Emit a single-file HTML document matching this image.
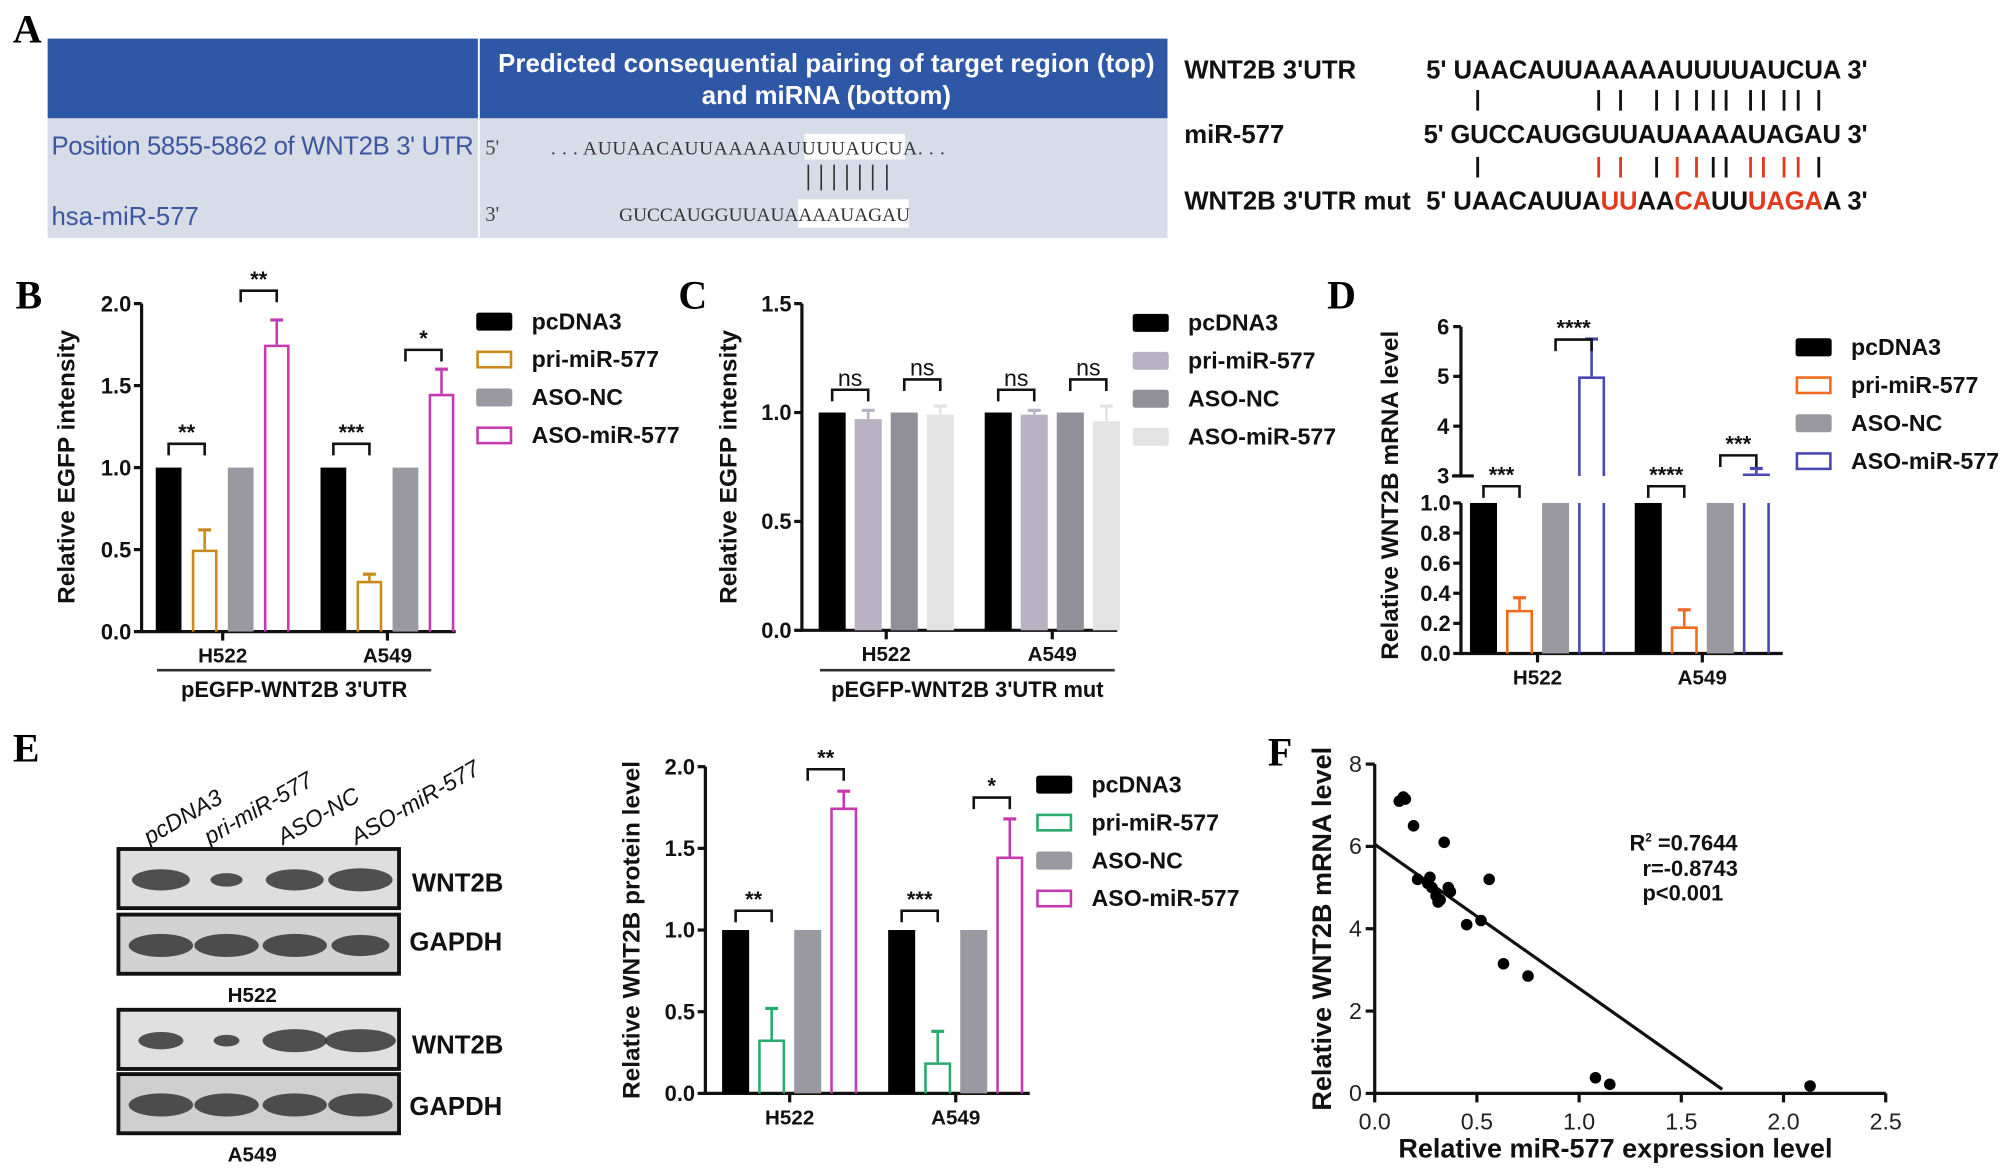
<!DOCTYPE html>
<html><head><meta charset="utf-8"><style>
html,body{margin:0;padding:0;background:#fff;}
svg{display:block;font-family:"Liberation Sans",Arial,sans-serif;}
.t{font-weight:bold;fill:#111;}
.n{font-family:"Liberation Sans Narrow","Liberation Sans",Arial,sans-serif;}
.pl{font-family:"Liberation Serif",serif;font-weight:bold;font-size:31px;fill:#000;}
</style></head><body>
<svg id="fig" width="2008" height="1168" viewBox="0 0 1560 908" preserveAspectRatio="none" xmlns="http://www.w3.org/2000/svg">
<!-- Panel A -->
<g>
<text class="pl" x="10" y="33">A</text>
<rect x="37" y="30" width="870" height="62" fill="#2e58a6"/>
<rect x="37" y="92" width="870" height="93" fill="#d6dde9"/>
<line x1="372" y1="30" x2="372" y2="185" stroke="#fff" stroke-width="1.5"/>
<text class="n" x="642" y="56" text-anchor="middle" font-size="20" font-weight="bold" fill="#fff" textLength="510">Predicted consequential pairing of target region (top)</text>
<text class="n" x="642" y="81" text-anchor="middle" font-size="20" font-weight="bold" fill="#fff">and miRNA (bottom)</text>
<text class="n" x="40" y="120" font-size="20" fill="#3d56a0" textLength="328">Position 5855-5862 of WNT2B 3' UTR</text>
<text class="n" x="40" y="175" font-size="20" fill="#3d56a0">hsa-miR-577</text>
<text x="377" y="120" font-size="16" fill="#444" font-family="Liberation Serif">5'</text>
<text x="377" y="172" font-size="16" fill="#444" font-family="Liberation Serif">3'</text>
<rect x="625" y="104" width="78" height="20" fill="#fff"/>
<text x="428" y="120" font-size="15" fill="#333" font-family="Liberation Serif" textLength="306">. . . AUUAACAUUAAAAAUUUUAUCUA. . .</text>
<g stroke="#333" stroke-width="1.3"><line x1="628" y1="128" x2="628" y2="148"/><line x1="638" y1="128" x2="638" y2="148"/><line x1="648" y1="128" x2="648" y2="148"/><line x1="658" y1="128" x2="658" y2="148"/><line x1="668" y1="128" x2="668" y2="148"/><line x1="678" y1="128" x2="678" y2="148"/><line x1="689" y1="128" x2="689" y2="148"/></g>
<rect x="620" y="155" width="86" height="22" fill="#fff"/>
<text x="481" y="172" font-size="15" fill="#333" font-family="Liberation Serif" textLength="226">GUCCAUGGUUAUAAAAUAGAU</text>
<text class="t n" x="920" y="61" font-size="20">WNT2B 3'UTR</text>
<text class="t n" x="920" y="111" font-size="20">miR-577</text>
<text class="t n" x="920" y="163" font-size="20" textLength="176">WNT2B 3'UTR mut</text>
<text class="t n" x="1108" y="61" font-size="20" textLength="343">5' UAACAUUAAAAAUUUUAUCUA 3'</text>
<text class="t n" x="1106" y="111" font-size="20" textLength="345">5' GUCCAUGGUUAUAAAAUAGAU 3'</text>
<text class="t n" x="1108" y="163" font-size="20" textLength="343">5' UAACAUUA<tspan fill="#e23a1e">UU</tspan>AA<tspan fill="#e23a1e">CA</tspan>UU<tspan fill="#e23a1e">UAGA</tspan>A 3'</text>
<g id="pairs1" stroke="#111" stroke-width="2.2"></g>
<g id="pairs2" stroke-width="2.2"></g>
</g>
<g id="charts"></g>
<!-- Panel E blots -->
<g>
<text class="pl" x="10" y="592">E</text>
<g font-size="18" font-style="italic" fill="#111">
<text transform="translate(116,657) rotate(-30)">pcDNA3</text>
<text transform="translate(163,657) rotate(-30)">pri-miR-577</text>
<text transform="translate(220,657) rotate(-30)">ASO-NC</text>
<text transform="translate(277,657) rotate(-30)">ASO-miR-577</text>
</g>
<g id="blots"></g>
<text class="t n" x="320" y="693" font-size="20">WNT2B</text>
<text class="t n" x="318" y="739" font-size="20">GAPDH</text>
<text x="196" y="779" font-size="16" class="t" text-anchor="middle">H522</text>
<text class="t n" x="320" y="819" font-size="20">WNT2B</text>
<text class="t n" x="318" y="867" font-size="20">GAPDH</text>
<text x="196" y="903" font-size="16" class="t" text-anchor="middle">A549</text>
</g>
</svg>
<script>
var NS="http://www.w3.org/2000/svg";
function mk(p,tag,at){var e=document.createElementNS(NS,tag);for(var k in at)e.setAttribute(k,at[k]);p.appendChild(e);return e;}
var svg=document.getElementById('fig');
var charts=document.getElementById('charts');

var pairX=[1148,1242,1259,1287,1303,1318,1331,1341,1360,1370,1386,1397,1413];
var pairRed=[0,1,1,0,1,1,0,0,1,1,1,1,0];
var p1=document.getElementById('pairs1'),p2=document.getElementById('pairs2');
pairX.forEach(function(x,i){
 mk(p1,'line',{x1:x,y1:70,x2:x,y2:86});
 mk(p2,'line',{x1:x,y1:122,x2:x,y2:138,stroke:pairRed[i]?'#e23a1e':'#111'});
});

// ===== Data =====
var groups=["H522","A549"];
var seriesNames=["pcDNA3","pri-miR-577","ASO-NC","ASO-miR-577"];
var bVals=[[1.0,0.5,1.0,1.75],[1.0,0.31,1.0,1.45]];
var bErr=[[0,0.62,0,1.9],[0,0.35,0,1.6]];
var cVals=[[1.0,0.97,1.0,0.99],[1.0,0.99,1.0,0.96]];
var cErr=[[0,1.01,0,1.03],[0,1.01,0,1.03]];
var dVals=[[1.0,0.29,1.0,5.0],[1.0,0.18,1.0,3.05]];
var dErr=[[0,0.37,0,5.75],[0,0.29,0,3.15]];
var eVals=[[1.0,0.33,1.0,1.75],[1.0,0.19,1.0,1.45]];
var eErr=[[0,0.52,0,1.85],[0,0.38,0,1.68]];
var bTicks=["0.0","0.5","1.0","1.5","2.0"];
var cTicks=["0.0","0.5","1.0","1.5"];
var dLowTicks=["0.0","0.2","0.4","0.6","0.8","1.0"];
var dHighTicks=["3","4","5","6"];
var fX=[0.12,0.14,0.15,0.19,0.34,0.21,0.26,0.27,0.28,0.30,0.31,0.32,0.36,0.37,0.45,0.52,0.56,0.63,0.75,1.08,1.15,2.13];
var fY=[7.1,7.2,7.15,6.5,6.1,5.2,5.1,5.25,5.0,4.8,4.65,4.7,5.0,4.9,4.1,4.2,5.2,3.15,2.85,0.38,0.22,0.18];
var fXTicks=["0.0","0.5","1.0","1.5","2.0","2.5"];
var fYTicks=["0","2","4","6","8"];
var fFit=[6.05,-3.5];

function barChart(o){
 var g=mk(charts,'g',{});
 
 
 var yv=o.y;
 var ax=mk(g,'path',{d:'M'+o.x0+' '+o.yTop+' V'+o.yBot+' H'+o.x1,fill:'none',stroke:'#111','stroke-width':2.5});
 
 
 if(o.ticks){o.ticks.forEach(function(t){var v=parseFloat(t),y=yv(v);
  mk(g,'line',{x1:o.x0-6,y1:y,x2:o.x0,y2:y,stroke:'#111','stroke-width':2.5});
  var tx=mk(g,'text',{x:o.x0-8,y:y+6,'text-anchor':'end','font-size':17,'class':'t n'});tx.textContent=t;
  
  
 });}
 groups.forEach(function(gn,gi){
  var gx=o.x0+o.off+gi*o.gstep;
  o.vals[gi].forEach(function(v,s){
   var x=gx+s*o.step, c=o.colors[s], w=o.bw;
   var drawRect=function(y1,y2,open){
    var r;
    if(c.fill){r=mk(g,'rect',{x:x,y:y1,width:w,height:y2-y1,fill:c.fill});}
    else{r=mk(g,'path',{d:open?('M'+(x+1)+' '+y2+' V'+y1+' M'+(x+w-1)+' '+y1+' V'+y2):('M'+(x+1)+' '+y2+' V'+(y1+1)+' H'+(x+w-1)+' V'+y2),fill:'none',stroke:c.stroke,'stroke-width':2});}
    
    
   };
   if(o.broken && v>o.breakLo){
    drawRect(yv(o.breakLo),o.yBot,true);
    drawRect(yv(v),yv(o.breakHi),false);
   } else drawRect(yv(v),o.yBot,false);
   var e=o.errs[gi][s];
   if(e>v){var cx=x+w/2,col=c.stroke||c.fill;
    mk(g,'line',{x1:cx,y1:yv(e),x2:cx,y2:yv(v),stroke:col,'stroke-width':2});
    mk(g,'line',{x1:cx-5,y1:yv(e),x2:cx+5,y2:yv(e),stroke:col,'stroke-width':2.5});}
  });
  var cxg=gx+1.5*o.step+o.bw/2;
  mk(g,'line',{x1:cxg,y1:o.yBot,x2:cxg,y2:o.yBot+7,stroke:'#111','stroke-width':2.5});
  var lt=mk(g,'text',{x:cxg,y:o.yBot+24,'text-anchor':'middle','font-size':16,'class':'t n'});lt.textContent=gn;
  
  
 });
 o.sig.forEach(function(b){
  var gx=o.x0+o.off+b[0]*o.gstep, a=gx+b[1]*o.step+o.bw/2, c2=gx+b[2]*o.step+o.bw/2, y=b[3];
  mk(g,'path',{d:'M'+a+' '+(y+9)+' V'+y+' H'+c2+' V'+(y+9),fill:'none',stroke:'#111','stroke-width':2});
  var st=mk(g,'text',{x:(a+c2)/2,y:y-3,'text-anchor':'middle','font-size':b[4]=='ns'?18:17,fill:'#111','font-weight':b[4]=='ns'?'normal':'bold'});st.textContent=b[4];
  
  
 });
 var tt=mk(g,'text',{transform:'translate('+o.tx+','+o.ty+') rotate(-90)','text-anchor':'middle','font-size':19,'class':'t'});tt.textContent=o.title;
 
 
 seriesNames.forEach(function(n,i){
  var y=o.ly+i*o.lstep,c=o.colors[i];
  var sw=mk(g,'rect',c.fill?{x:o.lx,y:y-7,width:28,height:14,rx:2,fill:c.fill}:{x:o.lx+1,y:y-6,width:26,height:12,fill:'none',stroke:c.stroke,'stroke-width':2});
  
  
  var lt=mk(g,'text',{x:o.lx+43,y:y+6,'font-size':18,'class':'t n'});lt.textContent=n;
  
  
 });
 if(o.under){
  mk(g,'line',{x1:o.under[0],y1:521,x2:o.under[1],y2:521,stroke:'#333','stroke-width':2});
  var ut=mk(g,'text',{x:(o.under[0]+o.under[1])/2,y:542,'text-anchor':'middle','font-size':17,'class':'t n'});ut.textContent=o.under[2];
  
  
 }
 if(o.letter){var L=mk(g,'text',{x:o.letter[0],y:o.letter[1],'class':'pl'});L.textContent=o.letter[2];
  
  }
 return g;
}

var colB=[{fill:'#000'},{stroke:'#c98a1a'},{fill:'#9a98a0'},{stroke:'#c43bb0'}];
var colC=[{fill:'#000'},{fill:'#b8b2c2'},{fill:'#918f97'},{fill:'#e3e3e3'}];
var colD=[{fill:'#000'},{stroke:'#ef6a1c'},{fill:'#9a98a0'},{stroke:'#4a48b0'}];
var colE=[{fill:'#000'},{stroke:'#2aaa6c'},{fill:'#9a98a0'},{stroke:'#c43bb0'}];

barChart({name:'panel-b-chart',x0:110,x1:354,yTop:236,yBot:491,y:function(v){return 491-v*127.5;},ticks:bTicks,
 off:11,gstep:128,step:28,bw:20,vals:bVals,errs:bErr,colors:colB,
 sig:[[0,0,1,345,'**'],[0,2,3,226,'**'],[1,0,1,345,'***'],[1,2,3,272,'*']],
 title:'Relative EGFP intensity',tx:58,ty:363,lx:370,ly:250,lstep:29.5,under:[122,335,"pEGFP-WNT2B 3'UTR"],letter:[12,240,'B']});
barChart({name:'panel-c-chart',x0:623,x1:868,yTop:236,yBot:490,y:function(v){return 490-v*169.3;},ticks:cTicks,
 off:13,gstep:129,step:28,bw:21,vals:cVals,errs:cErr,colors:colC,
 sig:[[0,0,1,303,'ns'],[0,2,3,295,'ns'],[1,0,1,303,'ns'],[1,2,3,295,'ns']],
 title:'Relative EGFP intensity',tx:572,ty:363,lx:880,ly:251,lstep:29.5,under:[637,866,"pEGFP-WNT2B 3'UTR mut"],letter:[527,240,'C']});
var dg=barChart({name:'panel-d-chart',x0:1135,x1:1385,yTop:391,yBot:508,y:function(v){return v<=1?508-v*117:(370-(v-3)*38.7);},ticks:dLowTicks,
 broken:true,breakLo:1.0,breakHi:3.0,
 off:7,gstep:128,step:28,bw:21,vals:dVals,errs:dErr,colors:colD,
 sig:[[0,0,1,378,'***'],[0,2,3,264,'****'],[1,0,1,378,'****'],[1,2,3,354,'***']],
 title:'Relative WNT2B mRNA level',tx:1086,ty:385,lx:1395,ly:270,lstep:29.5,letter:[1031,240,'D']});
(function(){var yv=function(v){return 370-(v-3)*38.7;};
 mk(dg,'line',{x1:1135,y1:yv(6),x2:1135,y2:yv(3),stroke:'#111','stroke-width':2.5});
 mk(dg,'line',{x1:1128,y1:370,x2:1145,y2:370,stroke:'#111','stroke-width':2.5});
 dHighTicks.forEach(function(t){var y=yv(parseFloat(t));
  mk(dg,'line',{x1:1129,y1:y,x2:1135,y2:y,stroke:'#111','stroke-width':2.5});
  var tx=mk(dg,'text',{x:1126,y:y+6,'text-anchor':'end','font-size':17,'class':'t n'});tx.textContent=t;
  
  
 });})();
barChart({name:'panel-e-chart',x0:548,x1:800,yTop:596,yBot:850,y:function(v){return 850-v*127;},ticks:bTicks,
 off:13,gstep:129,step:28,bw:21,vals:eVals,errs:eErr,colors:colE,
 sig:[[0,0,1,708,'**'],[0,2,3,598,'**'],[1,0,1,708,'***'],[1,2,3,620,'*']],
 title:'Relative WNT2B protein level',tx:497,ty:723,lx:805,ly:610,lstep:29.5});

(function(){
 var g=mk(charts,'g',{});
 
 
 var sx=function(v){return 1068+v*158.8;}, sy=function(v){return 850-v*32;};
 var ax=mk(g,'path',{d:'M1068 594 V850 H1465',fill:'none',stroke:'#111','stroke-width':2.5});
 
 
 fXTicks.forEach(function(t){var x=sx(parseFloat(t));
  mk(g,'line',{x1:x,y1:850,x2:x,y2:857,stroke:'#111','stroke-width':2.5});
  var tx=mk(g,'text',{x:x,y:878,'text-anchor':'middle','font-size':18,fill:'#222','class':'n'});tx.textContent=t;
  
  
 });
 fYTicks.forEach(function(t){var y=sy(parseFloat(t));
  mk(g,'line',{x1:1061,y1:y,x2:1068,y2:y,stroke:'#111','stroke-width':2.5});
  var tx=mk(g,'text',{x:1058,y:y+6,'text-anchor':'end','font-size':18,fill:'#222','class':'n'});tx.textContent=t;
  
  
 });
 var ln=mk(g,'line',{x1:sx(0),y1:sy(fFit[0]),x2:sx(1.7),y2:sy(fFit[0]+fFit[1]*1.7),stroke:'#111','stroke-width':2.5});
 
 
 fX.forEach(function(x,i){
  var c=mk(g,'circle',{cx:sx(x),cy:sy(fY[i]),r:4.5,fill:'#000'});
  
  
 });
 var a=mk(g,'text',{x:1266,y:661,'font-size':17,'class':'t n'});a.innerHTML='R<tspan font-size="9" dy="-7">2</tspan><tspan dy="7"> =0.7644</tspan>';
 
 
 var b=mk(g,'text',{x:1276,y:681,'font-size':17,'class':'t n'});b.textContent='r=-0.8743';
 
 
 var p=mk(g,'text',{x:1276,y:700,'font-size':17,'class':'t n'});p.textContent='p<0.001';
 
 
 var xt=mk(g,'text',{x:1255,y:900,'text-anchor':'middle','font-size':21,'class':'t n'});xt.textContent='Relative miR-577 expression level';
 
 
 var yt=mk(g,'text',{transform:'translate(1034,722) rotate(-90)','text-anchor':'middle','font-size':21,'class':'t'});yt.textContent='Relative WNT2B mRNA level';
 
 
 var L=mk(g,'text',{x:985,y:595,'class':'pl'});L.textContent='F';
 
 
})();

(function(){
 var bl=document.getElementById('blots');
 var boxes=[[660,'#dedede',[0.9,0.5,0.9,1.0]],[711,'#d2d2d2',[1,1,1,0.9]],[785,'#e0e0e0',[0.7,0.4,1,1.1]],[835,'#cfcfcf',[1,1,1,1]]];
 var lanes=[125,176,229,280];
 boxes.forEach(function(bx){
  var r=mk(bl,'rect',{x:92,y:bx[0],width:218,height:46,fill:bx[1],stroke:'#111','stroke-width':3});
  
  
  lanes.forEach(function(x,i){
   var e=mk(bl,'ellipse',{cx:x,cy:bx[0]+24,rx:25*bx[2][i],ry:7.5*Math.min(1.2,bx[2][i]+0.2),fill:'#2a2a2a',opacity:0.8});
   
   
  });
 });
})();
</script>
</body></html>
